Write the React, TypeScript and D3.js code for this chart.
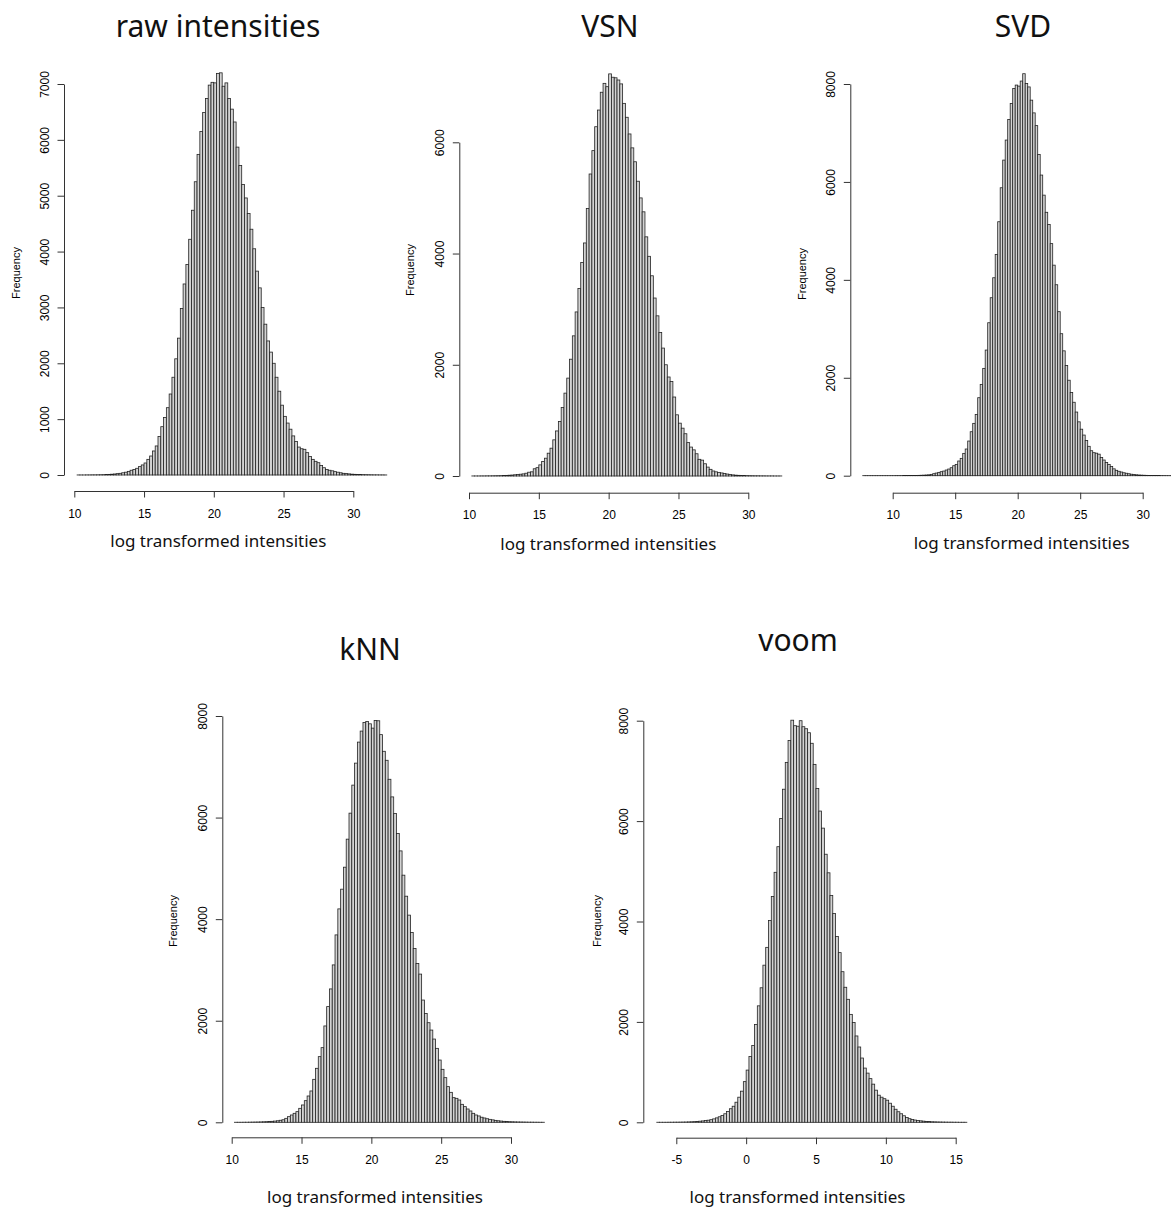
import React, { useEffect, useRef } from 'react';
import * as d3 from 'd3';

// histogram counts, bin width 0.2
const binWidth = 0.2;
const titles = ["raw intensities", "VSN", "SVD", "kNN", "voom"];
const xLabel = "log transformed intensities";
const yLabel = "Frequency";

const rawStart = 10.2;
const rawCounts = [
  1, 1, 1, 2, 2, 3, 3, 4, 5,
  6, 8, 11, 14, 18, 24, 30, 40, 50, 65,
  85, 100, 120, 150, 180, 215, 280, 340, 430, 520,
  690, 865, 1030, 1205, 1450, 1750, 2080, 2450, 2980, 3420,
  3770, 4220, 4740, 5250, 5740, 6150, 6490, 6740, 6980, 7030,
  7020, 7190, 7200, 6960, 7020, 6740, 6550, 6320, 5870, 5540,
  5200, 4960, 4680, 4400, 4050, 3650, 3350, 3000, 2700, 2400,
  2200, 2000, 1750, 1500, 1250, 1050, 930, 820, 700, 600,
  500, 470, 460, 400, 330, 280, 245, 220, 170, 130,
  100, 85, 75, 60, 50, 40, 30, 25, 20, 15,
  12, 10, 8, 7, 6, 5, 4, 3, 3, 2,
  2, 1
];

const vsnStart = 10.2;
const vsnCounts = [
  1, 1, 1, 2, 2, 3, 3, 4, 5,
  6, 7, 9, 11, 14, 17, 22, 27, 32, 38,
  50, 68, 75, 130, 150, 200, 260, 320, 410, 500,
  650, 810, 980, 1230, 1490, 1760, 2100, 2520, 2950, 3370,
  3840, 4190, 4810, 5430, 5850, 6280, 6580, 6900, 7060, 7000,
  7230, 7170, 7160, 7120, 7050, 6700, 6450, 6150, 5900, 5650,
  5300, 5000, 4750, 4300, 3950, 3600, 3200, 2880, 2580, 2300,
  2000, 1780, 1700, 1420, 1100, 950, 860, 760, 600, 520,
  470, 400, 300, 285, 220, 160, 120, 90, 75, 65,
  55, 45, 35, 28, 20, 15, 12, 10, 8, 7,
  6, 5, 4, 4, 3, 3, 2, 2, 2, 1,
  1, 1
];

const svdStart = 7.6;
const svdCounts = [
  1, 1, 1, 1, 1, 1, 1, 1, 1, 1,
  1, 1, 1, 2, 2, 2, 3, 3, 4, 4,
  5, 6, 7, 9, 11, 14, 18,
  27, 41, 54, 68, 82, 95, 116, 136, 163, 204,
  231, 300, 354, 456, 545, 708, 898, 1069, 1252, 1593,
  1865, 2192, 2566, 3124, 3635, 4043, 4520, 5187, 5881, 6446,
  6855, 7277, 7603, 7910, 7978, 7957, 8060, 8210, 8010, 7940,
  7670, 7410, 7150, 6560, 6140, 5730, 5380, 5130, 4740, 4300,
  3900, 3350, 2900, 2550, 2250, 1950, 1700, 1500, 1300, 1100,
  950, 830, 720, 600, 510, 470, 460, 440, 370, 320,
  270, 230, 190, 140, 110, 90, 75, 60, 50, 40,
  30, 24, 18, 14, 11, 9, 7, 6, 5, 4,
  3, 3, 2, 2, 1, 1, 1
];

const knnStart = 10.2;
const knnCounts = [
  1, 1, 1, 2, 2, 3, 4, 5, 6,
  8, 10, 12, 15, 19, 24, 30, 40, 50, 78,
  111, 144, 177, 210, 275, 341, 426, 518, 617, 846,
  1063, 1293, 1470, 1897, 2278, 2626, 3099, 3690, 4202, 4590,
  5023, 5575, 6087, 6639, 7072, 7486, 7703, 7873, 7893, 7846,
  7761, 7913, 7906, 7633, 7305, 7128, 6754, 6407, 6079, 5685,
  5344, 4866, 4452, 4079, 3738, 3423, 3128, 2918, 2407, 2144,
  1961, 1816, 1639, 1456, 1226, 1043, 879, 702, 590, 485,
  472, 439, 354, 308, 262, 223, 177, 144, 125, 100,
  85, 70, 58, 48, 38, 30, 24, 19, 15, 12,
  10, 8, 7, 6, 5, 4, 3, 3, 2, 2,
  1, 1
];

const voomStart = -6.4;
const voomCounts = [
  1, 1, 1, 1, 2, 2, 3, 3, 4, 5,
  6, 8, 10, 13, 17, 22, 27, 34, 42, 52,
  68, 88, 110, 135, 170, 215, 270, 320, 400, 500,
  620, 810, 1040, 1310, 1530, 1950, 2320, 2680, 3130, 3485,
  4020, 4500, 4980, 5490, 6050, 6635, 7170, 7605, 8010, 7900,
  7890, 8000, 7880, 7840, 7760, 7550, 7130, 6650, 6200, 5860,
  5340, 4970, 4520, 4160, 3700, 3380, 3000, 2690, 2450, 2150,
  1990, 1720, 1500, 1280, 1080, 980, 870, 760, 640, 540,
  500, 470, 440, 380, 320, 260, 210, 170, 130, 95,
  72, 55, 45, 36, 29, 23, 18, 14, 11, 9,
  7, 6, 5, 4, 3, 3, 2, 2, 1, 1,
  1
];

const logTicks = [10, 15, 20, 25, 30];
const voomTicks = [-5, 0, 5, 10, 15];
const rawYTicks = [0, 1000, 2000, 3000, 4000, 5000, 6000, 7000];
const vsnYTicks = [0, 2000, 4000, 6000];
const yTicks8000 = [0, 2000, 4000, 6000, 8000];

const tickFont = "'Liberation Sans', Arial, Helvetica, sans-serif";
const textFont = "'Noto Sans', 'Open Sans', sans-serif";

function Histogram(props) {
  const ref = useRef(null);
  const { title, start, counts, xTicks, yTicks, box } = props;

  useEffect(() => {
    const g = d3.select(ref.current);
    g.selectAll("*").remove();

    const x = d3.scaleLinear()
      .domain([xTicks[0], xTicks[xTicks.length - 1]])
      .range([box.xt0, box.xt1]);
    const y = d3.scaleLinear()
      .domain([0, yTicks[yTicks.length - 1]])
      .range([box.y0, box.yt]);

    const bins = counts.map((c, i) => ({
      x0: Math.round((start + i * binWidth) * 10) / 10,
      x1: Math.round((start + (i + 1) * binWidth) * 10) / 10,
      c
    }));

    g.selectAll(".bar")
      .data(bins)
      .enter()
      .append("rect")
      .attr("class", "bar")
      .attr("x", d => x(d.x0))
      .attr("y", d => y(d.c))
      .attr("width", d => x(d.x1) - x(d.x0))
      .attr("height", d => y(0) - y(d.c))
      .attr("fill", "#d3d3d3")
      .attr("stroke", "#222")
      .attr("stroke-width", 0.8);

    // R prints a plain hyphen for negatives
    const fmt = d => String(d);

    const xAxis = g.append("g")
      .attr("transform", `translate(0,${box.xAxisY})`)
      .call(d3.axisBottom(x).tickValues(xTicks).tickSize(6.5).tickSizeOuter(0).tickFormat(fmt));
    xAxis.selectAll("text")
      .attr("y", 26.5)
      .attr("dy", 0)
      .attr("font-family", tickFont)
      .attr("font-size", 12)
      .attr("fill", "#000");

    const yAxis = g.append("g")
      .attr("transform", `translate(${box.yAxisX},0)`)
      .call(d3.axisLeft(y).tickValues(yTicks).tickSize(6.5).tickSizeOuter(0).tickFormat(fmt));
    yAxis.selectAll("text")
      .attr("x", 0)
      .attr("dy", 0)
      .attr("text-anchor", "middle")
      .attr("transform", "translate(-15.5,0) rotate(-90)")
      .attr("font-family", tickFont)
      .attr("font-size", 12)
      .attr("fill", "#000");

    g.selectAll(".domain, .tick line").attr("stroke", "#333");

    g.append("text")
      .attr("x", box.titleX)
      .attr("y", box.titleY)
      .attr("text-anchor", "middle")
      .attr("font-family", textFont)
      .attr("font-size", 30)
      .attr("fill", "#111")
      .text(title);

    g.append("text")
      .attr("x", box.labX)
      .attr("y", box.labY)
      .attr("text-anchor", "middle")
      .attr("font-family", textFont)
      .attr("font-size", 17)
      .attr("fill", "#111")
      .text(xLabel);

    g.append("text")
      .attr("transform", `translate(${box.freqX},${box.freqY}) rotate(-90)`)
      .attr("text-anchor", "middle")
      .attr("font-family", tickFont)
      .attr("font-size", 11)
      .attr("fill", "#000")
      .text(yLabel);
  });

  return <g ref={ref}></g>;
}

const panels = [
  { title: titles[0], start: rawStart, counts: rawCounts, xTicks: logTicks, yTicks: rawYTicks,
    box: { xt0: 74.3, xt1: 353.3, y0: 475, yt: 84, yAxisX: 64, xAxisY: 491, titleX: 218, titleY: 37, labX: 218.3, labY: 547, freqX: 19.5, freqY: 273 } },
  { title: titles[1], start: vsnStart, counts: vsnCounts, xTicks: logTicks, yTicks: vsnYTicks,
    box: { xt0: 469, xt1: 748.3, y0: 476, yt: 142.3, yAxisX: 459.3, xAxisY: 492.7, titleX: 610, titleY: 36.5, labX: 608.3, labY: 550, freqX: 414, freqY: 270 } },
  { title: titles[2], start: svdStart, counts: svdCounts, xTicks: logTicks, yTicks: yTicks8000,
    box: { xt0: 892.7, xt1: 1142.7, y0: 475.7, yt: 84, yAxisX: 850.3, xAxisY: 492.7, titleX: 1023, titleY: 36.5, labX: 1021.7, labY: 549, freqX: 805.5, freqY: 274 } },
  { title: titles[3], start: knnStart, counts: knnCounts, xTicks: logTicks, yTicks: yTicks8000,
    box: { xt0: 231.7, xt1: 511, y0: 1122.3, yt: 716, yAxisX: 222.3, xAxisY: 1137.3, titleX: 370, titleY: 659.5, labX: 375, labY: 1203, freqX: 177, freqY: 921 } },
  { title: titles[4], start: voomStart, counts: voomCounts, xTicks: voomTicks, yTicks: yTicks8000,
    box: { xt0: 676.3, xt1: 955.7, y0: 1122.3, yt: 720.7, yAxisX: 643.3, xAxisY: 1137.7, titleX: 798, titleY: 651, labX: 797.5, labY: 1203, freqX: 600.5, freqY: 921 } }
];

export default function App() {
  return (
    <svg
      width={1171}
      height={1210}
      style={{ position: "absolute", left: 0, top: 0, background: "#fff" }}
    >
      <rect x={0} y={0} width={1171} height={1210} fill="#fff" />
      {panels.map(p => (
        <Histogram key={p.title} {...p} />
      ))}
    </svg>
  );
}
